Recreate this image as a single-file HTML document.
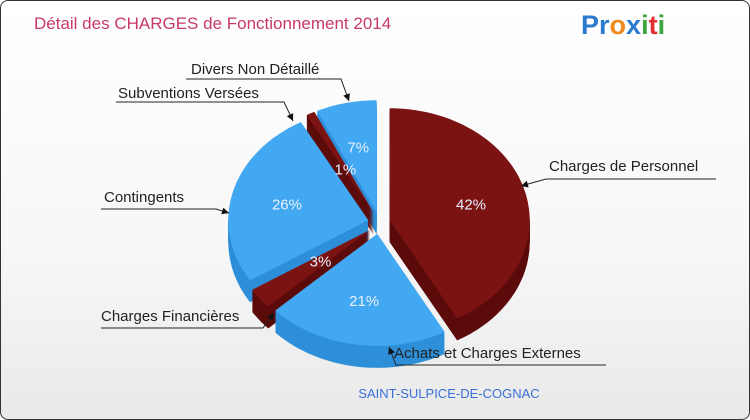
<!DOCTYPE html>
<html><head><meta charset="utf-8"><style>
html,body{margin:0;padding:0;}
body{width:750px;height:420px;overflow:hidden;font-family:"Liberation Sans",sans-serif;}
#frame{position:absolute;left:0;top:0;width:748px;height:418px;border:1px solid #333;border-radius:8px;background:linear-gradient(#ffffff,#f7f7f7 60%,#e9e9e9);overflow:hidden;}
</style></head><body>
<div id="frame">
<svg id="svg" width="750" height="420" style="position:absolute;left:0;top:0">
<text x="33" y="28" font-size="17" fill="#c8386a">Détail des CHARGES de Fonctionnement 2014</text>
<g font-size="27" font-weight="bold" font-family="Liberation Sans,sans-serif">
<text x="580" y="33"><tspan fill="#2a7bd0">P</tspan><tspan fill="#2a7bd0">r</tspan><tspan fill="#f08a1c">o</tspan><tspan fill="#2a7bd0">x</tspan><tspan fill="#3aa53a">i</tspan><tspan fill="#e23030">t</tspan><tspan fill="#3aa53a">i</tspan></text>
</g>
<g id="pie"></g>
<g id="labels"></g>
<text x="448" y="397" font-size="13" fill="#3a6fd8" text-anchor="middle">SAINT-SULPICE-DE-COGNAC</text>
</svg>
</div>
<script>
const categories=["Charges de Personnel","Achats et Charges Externes","Charges Financières","Contingents","Subventions Versées","Divers Non Détaillé"];
const values=[42,21,3,26,1,7];
const pctLabels=["42%","21%","3%","26%","1%","7%"];
const colorsTop=["#7b1313","#42a8f2","#7b1313","#42a8f2","#7b1313","#42a8f2"];
const colorsSide=["#5c0b0b","#2e8fd9","#5c0b0b","#2e8fd9","#5c0b0b","#2e8fd9"];
const cx=378,cy=222,rx=140,ry=112,depth=22,explode=11;
const NS="http://www.w3.org/2000/svg";
const pie=document.getElementById('pie');
const total=values.reduce((a,b)=>a+b,0);
function pt(a,ox,oy,r){r=r||1;return [cx+ox+rx*r*Math.sin(a),cy+oy-ry*r*Math.cos(a)];}
let acc=0;const slices=[];
values.forEach((v,i)=>{const a0=acc/total*2*Math.PI;acc+=v;const a1=acc/total*2*Math.PI;const m=(a0+a1)/2;
slices.push({i,a0,a1,m,ox:explode*Math.sin(m),oy:-explode*Math.cos(m)});});
function path(s,dy){const n=Math.max(4,Math.ceil((s.a1-s.a0)*40));let d=`M${cx+s.ox},${cy+s.oy+dy}`;
for(let k=0;k<=n;k++){const a=s.a0+(s.a1-s.a0)*k/n;const p=pt(a,s.ox,s.oy+dy);d+=`L${p[0].toFixed(1)},${p[1].toFixed(1)}`;}return d+'Z';}
const order=slices.slice().sort((a,b)=>(-Math.cos(a.m))-(-Math.cos(b.m)));
order.forEach(s=>{const g=document.createElementNS(NS,'g');


for(let dy=depth;dy>0;dy-=1){const p=document.createElementNS(NS,'path');p.setAttribute('d',path(s,dy));p.setAttribute('fill',colorsSide[s.i]);g.appendChild(p);}
const t=document.createElementNS(NS,'path');t.setAttribute('d',path(s,0));t.setAttribute('fill',colorsTop[s.i]);g.appendChild(t);
pie.appendChild(g);});
slices.forEach(s=>{const r=(values[s.i]<5)?0.45:0.6;const p=pt(s.m,s.ox,s.oy,r);
const t=document.createElementNS(NS,'text');t.setAttribute('x',p[0]);t.setAttribute('y',p[1]+6);
t.setAttribute('text-anchor','middle');t.setAttribute('font-size','15');t.setAttribute('fill','#e8f0ff');


t.textContent=pctLabels[s.i];pie.appendChild(t);});
const lab=document.getElementById('labels');
const callouts=[
 {i:0,tx:548,ty:170,line:"715,178 545,178 520,185"},
 {i:1,tx:393,ty:357,line:"605,364 395,364 388,346"},
 {i:2,tx:100,ty:320,line:"100,327 262,327 273,312"},
 {i:3,tx:103,ty:201,line:"100,208 215,208 228,212"},
 {i:4,tx:117,ty:97,line:"115,101 283,101 292,120"},
 {i:5,tx:190,ty:73,line:"185,78 340,78 348,100"}];
callouts.forEach(c=>{const pl=document.createElementNS(NS,'polyline');pl.setAttribute('points',c.line);
pl.setAttribute('fill','none');pl.setAttribute('stroke','#222');pl.setAttribute('stroke-width','1');


lab.appendChild(pl);
const pts=c.line.split(' ').map(p=>p.split(',').map(Number));const e=pts[2],b=pts[1];
const ang=Math.atan2(e[1]-b[1],e[0]-b[0]);const h=document.createElementNS(NS,'polygon');
const l=7,w=3.5;const p1=[e[0]-l*Math.cos(ang)+w*Math.sin(ang),e[1]-l*Math.sin(ang)-w*Math.cos(ang)];
const p2=[e[0]-l*Math.cos(ang)-w*Math.sin(ang),e[1]-l*Math.sin(ang)+w*Math.cos(ang)];
h.setAttribute('points',`${e[0]},${e[1]} ${p1[0]},${p1[1]} ${p2[0]},${p2[1]}`);h.setAttribute('fill','#111');


lab.appendChild(h);
const t=document.createElementNS(NS,'text');t.setAttribute('x',c.tx);t.setAttribute('y',c.ty);t.setAttribute('font-size','15');t.setAttribute('fill','#222');


t.textContent=categories[c.i];lab.appendChild(t);});
</script>
</body></html>
